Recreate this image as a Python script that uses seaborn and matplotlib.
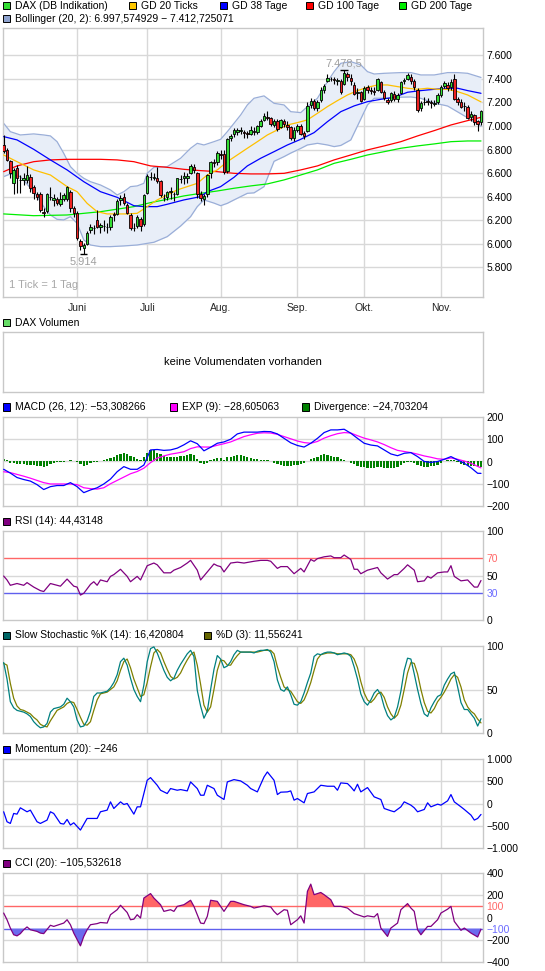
import numpy as np
import matplotlib
matplotlib.use("Agg")
import matplotlib.pyplot as plt
from matplotlib.patches import Rectangle
import seaborn as sns

sns.set_theme(style="white")
plt.rcParams['font.family'] = ['Liberation Sans', 'DejaVu Sans']
plt.rcParams['patch.edgecolor'] = 'none'

# ---------------- data ----------------
month_labels = ["Juni", "Juli", "Aug.", "Sep.", "Okt.", "Nov."]
month_days = [22, 43, 65, 88, 108, 131]

opens = [6835, 6795, 6700, 6520, 6640, 6545, 6540, 6545, 6570, 6480, 6420, 6420, 6270, 6280, 6400, 6370, 6380, 6340, 6380, 6380,
         6440, 6300, 6264, 6020, 5960, 6000, 6120, 6130, 6200, 6140, 6150, 6140, 6140, 6250, 6250, 6370, 6400, 6330, 6240, 6130,
         6150, 6210, 6170, 6430, 6570, 6560, 6560, 6530, 6390, 6400, 6440, 6420, 6420, 6550, 6560, 6560, 6600, 6650, 6600, 6420,
         6380, 6420, 6600, 6690, 6690, 6760, 6760, 6620, 6900, 6930, 6950, 6960, 6950, 6940, 6930, 6960, 6950, 7000, 7050, 7080,
         7070, 7010, 7040, 6990, 7040, 7010, 6990, 6900, 6970, 7000, 6940, 6960, 7180, 7210, 7150, 7220, 7310, 7380, 7400, 7400,
         7380, 7380, 7360, 7440, 7410, 7350, 7280, 7290, 7230, 7330, 7310, 7300, 7310, 7370, 7290, 7220, 7220, 7270, 7230, 7280,
         7380, 7400, 7420, 7380, 7310, 7150, 7200, 7210, 7200, 7190, 7200, 7260, 7340, 7350, 7330, 7400, 7230, 7200, 7170, 7160,
         7080, 7090, 7040, 7030]
highs = [6925, 6810, 6715, 6640, 6670, 6580, 6600, 6660, 6590, 6500, 6440, 6440, 6300, 6430, 6480, 6420, 6400, 6440, 6430, 6490,
         6460, 6320, 6280, 6040, 6010, 6110, 6170, 6160, 6290, 6180, 6200, 6175, 6240, 6270, 6380, 6410, 6430, 6350, 6260, 6180,
         6240, 6230, 6420, 6590, 6610, 6600, 6650, 6540, 6420, 6450, 6480, 6440, 6560, 6580, 6610, 6600, 6680, 6680, 6610, 6450,
         6420, 6590, 6700, 6720, 6790, 6800, 6800, 6900, 6930, 6980, 6980, 6990, 6970, 6960, 7000, 6990, 7010, 7060, 7110, 7130,
         7080, 7060, 7060, 7060, 7060, 7040, 7000, 6990, 7020, 7020, 6960, 7200, 7240, 7230, 7220, 7330, 7360, 7440, 7420, 7420,
         7410, 7400, 7478.5, 7460, 7440, 7370, 7320, 7300, 7340, 7350, 7330, 7330, 7410, 7380, 7310, 7240, 7290, 7300, 7280, 7380,
         7410, 7450, 7440, 7400, 7320, 7210, 7250, 7240, 7220, 7220, 7280, 7350, 7380, 7370, 7400, 7440, 7250, 7230, 7200, 7180,
         7130, 7100, 7050, 7140]
lows = [6770, 6700, 6560, 6420, 6430, 6430, 6500, 6520, 6440, 6380, 6370, 6270, 6230, 6260, 6370, 6320, 6330, 6320, 6360, 6360,
        6270, 6230, 6035, 5950, 5914, 5990, 6090, 6080, 6130, 6090, 6110, 6090, 6120, 6190, 6240, 6330, 6330, 6250, 6120, 6110,
        6130, 6110, 6150, 6420, 6540, 6540, 6520, 6400, 6360, 6370, 6380, 6360, 6410, 6520, 6510, 6520, 6590, 6600, 6390, 6360,
        6330, 6400, 6560, 6650, 6670, 6720, 6590, 6600, 6870, 6910, 6920, 6930, 6900, 6900, 6920, 6920, 6930, 6990, 7040, 7050,
        7000, 6990, 6960, 6980, 6990, 6970, 6880, 6870, 6950, 6920, 6890, 6950, 7150, 7140, 7130, 7200, 7280, 7370, 7380, 7360,
        7350, 7270, 7350, 7380, 7350, 7260, 7230, 7200, 7220, 7280, 7270, 7260, 7300, 7280, 7220, 7190, 7200, 7210, 7200, 7270,
        7360, 7390, 7360, 7310, 7120, 7130, 7180, 7180, 7150, 7170, 7190, 7250, 7320, 7300, 7310, 7220, 7180, 7150, 7130, 7060,
        7040, 7010, 6960, 7010]
closes = [6790, 6712, 6600, 6625, 6560, 6540, 6560, 6580, 6470, 6430, 6400, 6290, 6262, 6420, 6395, 6390, 6350, 6380, 6410, 6480,
          6300, 6264, 6050, 5978, 5990, 6093, 6144, 6130, 6141, 6161, 6152, 6138, 6229, 6248, 6363, 6392, 6343, 6263, 6132, 6136,
          6228, 6150, 6416, 6578, 6564, 6566, 6535, 6410, 6387, 6438, 6444, 6419, 6557, 6553, 6572, 6576, 6658, 6630, 6419, 6390,
          6405, 6582, 6690, 6684, 6772, 6754, 6606, 6886, 6918, 6967, 6966, 6966, 6944, 6929, 6964, 6946, 6997, 7040, 7089, 7072,
          7017, 7040, 6971, 7047, 7013, 6990, 6895, 6970, 7004, 6932, 6919, 7167, 7214, 7151, 7200, 7310, 7344, 7412, 7403, 7388,
          7390, 7289, 7451, 7413, 7379, 7276, 7290, 7216, 7326, 7306, 7298, 7291, 7397, 7291, 7234, 7205, 7281, 7232, 7262, 7376,
          7394, 7437, 7380, 7328, 7140, 7196, 7208, 7203, 7194, 7197, 7260, 7335, 7363, 7327, 7377, 7232, 7204, 7163, 7169, 7069,
          7101, 7030, 7020, 7125]

gd20_days = [0, 4, 9, 14, 19, 22, 25, 28, 31, 34, 37, 40, 43, 46, 49, 52, 55, 58, 61, 64, 67, 70, 73, 76, 79, 82, 85, 88, 91, 94,
             97, 100, 103, 106, 109, 112, 115, 118, 121, 124, 127, 130, 133, 136, 139, 143]
gd20_vals = [6754, 6697, 6627, 6584, 6485, 6442, 6343, 6272, 6253, 6253, 6253, 6258, 6315, 6372, 6414, 6457, 6485, 6513, 6584, 6627,
             6697, 6754, 6811, 6867, 6924, 6967, 7009, 7029, 7052, 7108, 7165, 7216, 7264, 7301, 7329, 7349, 7349, 7335, 7321, 7312,
             7321, 7312, 7312, 7292, 7264, 7205]
gd38_days = [0, 4, 9, 14, 19, 24, 29, 34, 39, 42, 46, 49, 54, 59, 61, 65, 69, 73, 77, 81, 85, 89, 93, 97, 101, 105, 109, 113, 117,
             121, 125, 129, 133, 136, 139, 143]
gd38_vals = [6910, 6882, 6802, 6712, 6627, 6527, 6442, 6394, 6323, 6315, 6315, 6335, 6372, 6400, 6442, 6485, 6564, 6661, 6726, 6782,
             6839, 6887, 6944, 7037, 7122, 7171, 7207, 7227, 7244, 7287, 7301, 7312, 7321, 7321, 7301, 7278]
gd100_days = [0, 4, 9, 14, 19, 24, 29, 34, 39, 44, 49, 54, 59, 64, 69, 74, 79, 84, 89, 94, 99, 104, 109, 114, 119, 124, 129, 134,
              139, 143]
gd100_vals = [6612, 6661, 6697, 6712, 6717, 6717, 6717, 6712, 6697, 6661, 6649, 6632, 6621, 6612, 6598, 6593, 6593, 6598, 6627, 6661,
              6712, 6754, 6797, 6831, 6867, 6916, 6961, 7009, 7046, 7074]
gd200_days = [0, 9, 19, 29, 39, 44, 49, 54, 59, 64, 69, 74, 79, 84, 89, 94, 99, 104, 109, 114, 119, 124, 129, 134, 139, 143]
gd200_vals = [6253, 6238, 6244, 6272, 6315, 6349, 6377, 6406, 6428, 6448, 6471, 6491, 6508, 6542, 6584, 6627, 6683, 6717, 6754, 6782,
              6811, 6831, 6848, 6867, 6873, 6873]

bb_days = [0, 2, 5, 9, 12, 14, 16, 18, 20, 22, 24, 26, 29, 32, 34, 36, 38, 40, 42, 43, 45, 49, 53, 56, 58, 60, 63, 65, 67, 69,
           71, 73, 75, 78, 81, 84, 86, 89, 91, 94, 97, 99, 101, 104, 107, 109, 111, 114, 119, 122, 125, 129, 133, 136, 139, 143]
bb_upper = [7023, 6952, 6924, 6933, 6924, 6916, 6867, 6768, 6655, 6598, 6556, 6527, 6499, 6457, 6414, 6442, 6485, 6491, 6513, 6598,
            6649, 6655, 6726, 6811, 6853, 6839, 6867, 6887, 6952, 7023, 7094, 7179, 7236, 7256, 7193, 7179, 7122, 7114, 7165, 7236,
            7377, 7462, 7533, 7547, 7519, 7462, 7442, 7448, 7454, 7454, 7434, 7434, 7454, 7454, 7448, 7412.7]
bb_lower = [6570, 6593, 6570, 6442, 6315, 6244, 6207, 6202, 6230, 6173, 6032, 5989, 5975, 5975, 5978, 5981, 5985, 5989, 5998, 6003,
            6012, 6060, 6150, 6230, 6315, 6372, 6345, 6323, 6343, 6372, 6400, 6428, 6432, 6485, 6700, 6740, 6770, 6810, 6839, 6853,
            6839, 6825, 6835, 6882, 7060, 7180, 7236, 7236, 7245, 7247, 7235, 7195, 7170, 7120, 7070, 6997.6]

macd_days = list(range(0, 143, 2)) + [143]
macd_vals = [-35, -52, -72, -81, -88, -104, -126, -113, -108, -108, -95, -113, -140, -128, -118, -101, -79, -46, -23, -35,
             -35, -16, 52, 54, 50, 52, 60, 75, 93, 80, 48, 64, 82, 88, 100, 124, 132, 132, 132, 135,
             134, 124, 104, 84, 72, 65, 82, 104, 130, 142, 142, 145, 127, 104, 82, 74, 70, 52, 34, 26,
             37, 40, 22, 0, -4, 0, 10, 22, 7, -8, -28, -53, -53.3]
exp_vals = [-46, -50, -58, -66, -75, -85, -95, -101, -101, -101, -101, -104, -118, -122, -124, -118, -100, -85, -70, -55,
            -45, -30, -5, 15, 25, 33, 38, 44, 58, 66, 65, 65, 73, 80, 88, 100, 112, 120, 127, 129,
            128, 122, 112, 102, 92, 85, 82, 90, 105, 116, 125, 130, 128, 116, 105, 97, 88, 76, 62, 50,
            45, 40, 33, 25, 19, 12, 10, 16, 10, 2, -8, -22, -28.6]
div_vals = [10, 8, -5, -8, -10, -12, -12, -14, -15, -16, -18, -22, -25, -18, -12, -6, -3, -2, -3, 2,
            6, 4, -3, -12, -18, -15, -8, -3, -2, 0, 5, 10, 14, 20, 28, 35, 40, 33, 25, 18,
            10, 5, 20, 40, 52, 50, 40, 32, 25, 22, 20, 20, 22, 25, 26, 28, 32, 30, 10, -8,
            -10, -5, 5, 12, 15, 14, 8, 18, 22, 25, 28, 28, 25, 20, 15, 12, 10, 8, 6, 5,
            3, -5, -10, -15, -18, -18, -18, -16, -14, -12, -8, 2, 10, 15, 20, 28, 32, 28, 25, 20,
            18, 10, 5, 0, -5, -12, -20, -25, -25, -27, -28, -28, -25, -25, -28, -30, -30, -28, -25, -15,
            -5, -2, -4, -5, -15, -22, -25, -25, -22, -20, -15, -8, 0, 5, 8, 5, -3, -12, -15, -18,
            -20, -22, -25, -25]

rsi_days = [0, 1, 2, 4, 6, 7, 9, 11, 12, 14, 15, 17, 19, 21, 22, 23, 24, 26, 27, 28, 29, 31, 32, 33, 35, 37, 38, 40, 41, 43,
            45, 46, 48, 50, 51, 53, 55, 56, 58, 59, 61, 63, 64, 65, 66, 68, 70, 72, 75, 77, 79, 80, 82, 83, 85, 87, 89, 90, 92, 93,
            94, 96, 98, 99, 101, 102, 104, 105, 106, 107, 109, 112, 113, 115, 117, 118, 120, 121, 123, 124, 126, 127, 128, 130, 132,
            133, 134, 135, 137, 139, 141, 142, 143]
rsi_vals = [49.4, 45, 39, 41, 39, 42, 37, 33, 32, 41, 40, 38, 46, 38, 37, 28, 30, 40, 43, 39, 45, 43, 49, 51, 57, 49, 43, 49, 45, 61,
            64, 62, 53, 53, 56, 59, 64, 67, 56, 45, 54, 63, 61, 60, 54, 64, 65, 64, 66, 67, 67, 66, 58, 60, 60, 52, 58, 54, 68, 66,
            69, 71, 72, 70, 70, 73, 68, 57, 57, 52, 56, 59, 53, 46, 51, 51, 58, 62, 56, 43, 44, 49, 47, 53, 54,
            54, 61, 49, 44, 45, 37, 37, 44.4]

stoch_k = [81, 62, 36, 29, 26, 25, 24, 22, 19, 13, 9, 6, 7, 11, 24, 28, 29, 30, 33, 40,
           36, 30, 15, 7, 8, 14, 25, 42, 46, 46, 47, 48, 52, 58, 67, 82, 86, 78, 63, 50,
           42, 36, 55, 82, 97, 99, 92, 82, 72, 64, 60, 63, 72, 79, 85, 91, 95, 88, 49, 31,
           17, 25, 50, 73, 89, 85, 75, 77, 82, 90, 95, 93, 93, 93, 93, 92, 94, 95, 95, 96,
           93, 82, 61, 50, 48, 53, 44, 33, 32, 36, 46, 58, 69, 88, 91, 90, 92, 93, 93, 92,
           90, 91, 92, 91, 88, 76, 62, 45, 36, 32, 38, 46, 50, 44, 30, 20, 15, 18, 30, 48,
           72, 86, 85, 68, 50, 34, 22, 19, 29, 36, 42, 44, 55, 62, 68, 70, 53, 35, 27, 27,
           22, 17, 8, 16.4]
stoch_d = [80, 78, 57, 40, 31, 27, 26, 24, 22, 18, 15, 10, 8, 7, 14, 20, 26, 28, 30, 34,
           36, 35, 27, 18, 10, 9, 13, 26, 38, 45, 46, 47, 50, 53, 60, 72, 82, 85, 75, 62,
           52, 42, 44, 58, 76, 92, 96, 92, 82, 73, 65, 62, 64, 69, 77, 84, 90, 93, 78, 56,
           32, 24, 30, 50, 72, 84, 83, 78, 78, 84, 89, 93, 93, 93, 93, 93, 93, 94, 95, 95,
           95, 91, 76, 64, 53, 50, 48, 42, 36, 34, 38, 47, 58, 72, 85, 90, 91, 92, 92, 92,
           91, 91, 91, 91, 90, 85, 75, 59, 46, 38, 35, 39, 45, 47, 41, 30, 22, 17, 21, 32,
           50, 69, 81, 80, 68, 50, 35, 25, 23, 28, 36, 41, 47, 54, 62, 67, 64, 53, 38, 30,
           25, 22, 16, 11.6]

mom_days = [0, 1, 2, 3, 4, 5, 7, 8, 10, 11, 13, 14, 15, 17, 18, 19, 20, 21, 23, 25, 26, 28, 29, 31, 32, 33, 35, 36, 37, 39,
            40, 41, 42, 43, 44, 46, 47, 49, 50, 52, 53, 55, 56, 58, 59, 60, 61, 63, 64, 66, 67, 69, 71, 73, 74, 76, 78, 79, 81, 82,
            83, 85, 86, 87, 88, 90, 91, 93, 95, 97, 99, 100, 101, 103, 104, 105, 106, 107, 109, 111, 113, 114, 116, 117, 119, 120,
            122, 123, 124, 126, 127, 128, 130, 131, 133, 134, 135, 137, 138, 140, 141, 142, 143]
mom_vals = [-186, -410, -448, -224, -239, -97, -186, -149, -410, -448, -373, -186, -224, -448, -463, -358, -485, -433, -597, -336,
            -336, -336, -186, -149, 37, -112, 37, -22, 0, -239, -75, -75, 224, 522, 582, 410, 298, 224, 336, 298,
            313, 283, 485, 336, 186, 186, 410, 336, 186, 90, 485, 537, 507, 410, 336, 261, 597, 709, 522, 201,
            254, 261, 283, 75, 112, 15, 224, 261, 410, 388, 388, 298, 463, 448, 373, 283, 433, 261, 358, 149,
            90, -112, -164, -186, -75, 37, -37, -97, -186, -134, 15, -75, -15, -37, 60, 201, 37, -75, -134, -261,
            -373, -336, -246]

cci_days = [0, 1, 2, 3, 4, 5, 6, 7, 8, 10, 11, 12, 14, 15, 16, 18, 19, 20, 21, 23, 24, 25, 26, 28, 29, 31, 32, 34, 35, 37,
            38, 39, 40, 41, 42, 44, 45, 47, 48, 50, 51, 52, 54, 56, 57, 59, 60, 61, 62, 64, 65, 66, 68, 69, 72, 74, 75, 78, 80, 81,
            82, 84, 85, 86, 88, 89, 90, 91, 92, 93, 95, 96, 98, 99, 101, 103, 105, 106, 108, 109, 111, 112, 113, 115, 116, 118,
            119, 121, 122, 123, 124, 125, 127, 128, 130, 131, 133, 134, 135, 137, 138, 140, 142, 143]
cci_vals = [40, -20, -95, -155, -165, -145, -110, -85, -110, -125, -140, -145, -70, -80, -70, -50, -20, -65, -140, -255,
            -170, -110, -65, -55, -45, -50, 25, 70, 110, 45, -20, -15, 25, -5, 175, 215, 175, 115, 55, 70,
            55, 100, 115, 155, 100, -50, -55, 10, 155, 145, 100, 55, 145, 145, 115, 100, 85, 105, 95, 55,
            25, 70, 65, -65, -20, 15, -50, 235, 300, 205, 225, 205, 160, 100, 100, 85, 35, 25, 5, 15,
            5, 35, -95, -170, -95, -50, 70, 125, 85, 55, -110, -155, -80, -80, -20, 40, 75, 100, -35, -115,
            -95, -140, -175, -105.5]

# ---------------- styling ----------------
W, H = 545, 971
L, R = 3, 483
XLIM = (-0.2, 143.6)
FS = 7.5
GRID = '#D8D8D8'
FRAME = '#C8C8C8'
LW = 0.9

fig = plt.figure(figsize=(W / 100, H / 100), dpi=100)
fig.patch.set_facecolor('white')


def de(v):
    s = f"{abs(int(round(v))):,}".replace(",", ".")
    return ("\u2212" if v < 0 else "") + s


def panel(top, bottom, yticks=None, ylim=None, grid_y=(), vgrid=True):
    ax = fig.add_axes([L / W, 1 - bottom / H, (R - L) / W, (bottom - top) / H])
    ax.set_facecolor('white')
    for s in ax.spines.values():
        s.set_color(FRAME)
        s.set_linewidth(1)
    ax.set_xlim(XLIM)
    if ylim is not None:
        ax.set_ylim(ylim)
    ax.yaxis.tick_right()
    ax.tick_params(axis='y', length=0, pad=2.5, labelsize=FS, colors='black')
    ax.tick_params(axis='x', length=0)
    ax.set_xticks([])
    if yticks is not None:
        ax.set_yticks(yticks)
        ax.set_yticklabels([de(t) for t in yticks])
    else:
        ax.set_yticks([])
    if vgrid:
        for d in month_days:
            ax.axvline(d, color=GRID, lw=1, zorder=0)
    for g in grid_y:
        ax.axhline(g, color=GRID, lw=1, zorder=0)
    ax.grid(False)
    return ax


def legend_item(x, y, color, text):
    fig.add_artist(Rectangle((x / W, 1 - (y + 3.5) / H), 7 / W, 7 / H, transform=fig.transFigure,
                             facecolor=color, edgecolor='black', lw=0.7))
    fig.text((x + 12) / W, 1 - y / H, text, fontsize=FS, va='center', ha='left', color='black')


# ---------------- main price panel ----------------
days = np.arange(len(closes))
o = np.array(opens, float); c = np.array(closes, float)
hi = np.array(highs, float); lo = np.array(lows, float)

ax = panel(28, 297, yticks=list(range(5800, 7601, 200)), ylim=(5547, 7833),
           grid_y=list(range(5800, 7601, 200)))
ax.fill_between(bb_days, bb_lower, bb_upper, color='#E8EEF8', zorder=1, lw=0)
sns.lineplot(x=bb_days, y=bb_upper, ax=ax, color='#9AAED8', lw=LW, zorder=2, legend=False)
sns.lineplot(x=bb_days, y=bb_lower, ax=ax, color='#9AAED8', lw=LW, zorder=2, legend=False)
sns.lineplot(x=gd200_days, y=gd200_vals, ax=ax, color='#00EE00', lw=LW, zorder=3, legend=False)
sns.lineplot(x=gd100_days, y=gd100_vals, ax=ax, color='#FF0000', lw=LW, zorder=3, legend=False)
sns.lineplot(x=gd38_days, y=gd38_vals, ax=ax, color='#0000FF', lw=LW, zorder=3, legend=False)
sns.lineplot(x=gd20_days, y=gd20_vals, ax=ax, color='#FFC000', lw=LW, zorder=3, legend=False)

cols = np.where(c >= o, '#33DD33', '#EE2222')
ax.vlines(days, lo, hi, color='black', lw=0.8, zorder=4)
ax.bar(days, np.abs(c - o), bottom=np.minimum(o, c), width=0.75, color=cols,
       edgecolor='black', linewidth=0.6, zorder=5)
ax.set_ylim(5547, 7833)
ax.set_xlim(XLIM)

ih = int(np.argmax(hi)); il = int(np.argmin(lo))
ax.hlines(hi[ih], ih - 1.1, ih + 1.1, color='black', lw=1, zorder=6)
ax.hlines(lo[il], il - 1.1, il + 1.1, color='black', lw=1, zorder=6)
ax.annotate("7.478,5", xy=(ih, hi[ih]), xytext=(0, 1), textcoords='offset points',
            ha='center', va='bottom', fontsize=FS + 0.5, color='#A0A0A0')
ax.annotate("5.914", xy=(il, lo[il]), xytext=(0, -2), textcoords='offset points',
            ha='center', va='top', fontsize=FS + 0.5, color='#A0A0A0')
ax.text(0.012, 0.025, "1 Tick = 1 Tag", transform=ax.transAxes, fontsize=FS + 0.5,
        color='#A8A8A8', ha='left', va='bottom')
ax.set_xticks(month_days)
ax.set_xticklabels(month_labels, fontsize=FS)
ax.tick_params(axis='x', length=0, pad=4)
ax.set_ylabel(""); ax.set_xlabel("")

legend_item(3, 6, '#33DD33', "DAX (DB Indikation)")
legend_item(129, 6, '#FFC800', "GD 20 Ticks")
legend_item(220, 6, '#0000FF', "GD 38 Tage")
legend_item(306, 6, '#FF0000', "GD 100 Tage")
legend_item(399, 6, '#00EE00', "GD 200 Tage")
legend_item(3, 19, '#8FA3CF', "Bollinger (20, 2): 6.997,574929 \u2212 7.412,725071")

# ---------------- volume panel ----------------
axv = panel(332, 392, vgrid=False)
axv.text(0.5, 0.5, "keine Volumendaten vorhanden", transform=axv.transAxes,
         ha='center', va='center', fontsize=FS + 0.5, color='black')
legend_item(3, 323, '#66DD66', "DAX Volumen")

# ---------------- MACD ----------------
axm = panel(417, 506, yticks=[-200, -100, 0, 100, 200], ylim=(-200, 200), grid_y=[-100, 0, 100])
axm.bar(days, div_vals, width=0.68, color='#008000', edgecolor='none', linewidth=0, zorder=2)
sns.lineplot(x=macd_days, y=exp_vals, ax=axm, color='#FF00FF', lw=LW, zorder=3, legend=False)
sns.lineplot(x=macd_days, y=macd_vals, ax=axm, color='#0000FF', lw=LW, zorder=4, legend=False)
axm.set_ylim(-200, 200); axm.set_xlim(XLIM); axm.set_xlabel(""); axm.set_ylabel("")
legend_item(3, 407, '#0000FF', "MACD (26, 12): \u221253,308266")
legend_item(170, 407, '#FF00FF', "EXP (9): \u221228,605063")
legend_item(302, 407, '#008000', "Divergence: \u221224,703204")

# ---------------- RSI ----------------
axr = panel(531, 620, yticks=[0, 30, 50, 70, 100], ylim=(0, 100), grid_y=[50])
axr.axhline(70, color='#FF6666', lw=1, zorder=1)
axr.axhline(30, color='#6060EE', lw=1, zorder=1)
sns.lineplot(x=rsi_days, y=rsi_vals, ax=axr, color='#800080', lw=LW, zorder=3, legend=False)
axr.set_ylim(0, 100); axr.set_xlim(XLIM); axr.set_xlabel(""); axr.set_ylabel("")
for t in axr.get_yticklabels():
    if t.get_text() == "70":
        t.set_color('#FF6666')
    elif t.get_text() == "30":
        t.set_color('#6B6BFF')
legend_item(3, 521, '#800080', "RSI (14): 44,43148")

# ---------------- Stochastic ----------------
axs = panel(646, 733, yticks=[0, 50, 100], ylim=(0, 100), grid_y=[50])
sns.lineplot(x=days, y=stoch_d, ax=axs, color='#808000', lw=LW, zorder=3, legend=False)
sns.lineplot(x=days, y=stoch_k, ax=axs, color='#008080', lw=LW, zorder=4, legend=False)
axs.set_ylim(0, 100); axs.set_xlim(XLIM); axs.set_xlabel(""); axs.set_ylabel("")
legend_item(3, 635, '#006666', "Slow Stochastic %K (14): 16,420804")
legend_item(204, 635, '#666600', "%D (3): 11,556241")

# ---------------- Momentum ----------------
axo = panel(759, 848, yticks=[-1000, -500, 0, 500, 1000], ylim=(-1000, 1000), grid_y=[-500, 0, 500])
sns.lineplot(x=mom_days, y=mom_vals, ax=axo, color='#0000FF', lw=LW, zorder=3, legend=False)
axo.set_ylim(-1000, 1000); axo.set_xlim(XLIM); axo.set_xlabel(""); axo.set_ylabel("")
legend_item(3, 749, '#0000FF', "Momentum (20): \u2212246")

# ---------------- CCI ----------------
axc = panel(873, 962, yticks=[-400, -200, -100, 0, 100, 200, 400], ylim=(-400, 400), grid_y=[-200, 0, 200])
cd = np.array(cci_days, float); cv = np.array(cci_vals, float)
axc.fill_between(cd, cv, 100, where=cv >= 100, interpolate=True, color='#FF6666', lw=0, zorder=2)
axc.fill_between(cd, cv, -100, where=cv <= -100, interpolate=True, color='#6B6BEE', lw=0, zorder=2)
axc.axhline(100, color='#FF6666', lw=1, zorder=1)
axc.axhline(-100, color='#6060EE', lw=1, zorder=1)
sns.lineplot(x=cci_days, y=cci_vals, ax=axc, color='#800080', lw=LW, zorder=3, legend=False)
axc.set_ylim(-400, 400); axc.set_xlim(XLIM); axc.set_xlabel(""); axc.set_ylabel("")
for t in axc.get_yticklabels():
    if t.get_text() == "100":
        t.set_color('#FF6666')
    elif t.get_text() == "\u2212100":
        t.set_color('#6B6BFF')
legend_item(3, 863, '#800080', "CCI (20): \u2212105,532618")

fig.savefig("out.png", dpi=100, facecolor='white')
